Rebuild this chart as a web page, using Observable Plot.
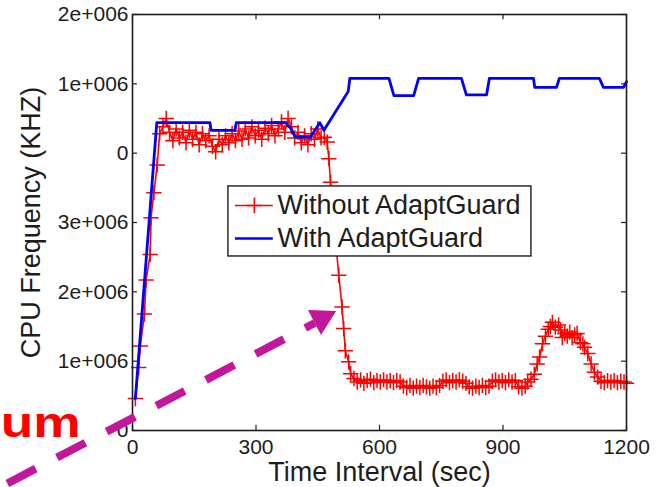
<!DOCTYPE html>
<html>
<head>
<meta charset="utf-8">
<script src="https://cdn.jsdelivr.net/npm/d3@7"></script>
<script src="https://cdn.jsdelivr.net/npm/@observablehq/plot@0.6"></script>
<style>
  html, body { margin: 0; padding: 0; background: #fff; }
</style>
</head>
<body>
<div id="chart"></div>
<script>
// ---- Data (values in units of 1e6 KHz on the y axis) ----
const xTicks = [0, 300, 600, 900, 1200];
const yTicks = [0, 1, 2, 3, 4, 5, 6];
const yTickLabels = ["0", "1e+006", "2e+006", "3e+006", "0", "1e+006", "2e+006"];

const seriesNames = ["Without AdaptGuard", "With AdaptGuard"];

// Without AdaptGuard (red, + markers)
const redTime = [
  7, 15, 19, 29, 33, 43, 45, 52, 60,
  66, 74, 82, 90, 98, 106, 114, 122, 130, 138, 146, 154, 162, 170, 178, 186, 194, 202, 210, 218,
  226, 234, 242, 250, 258, 266, 274, 282, 290, 298, 306, 314, 322, 330, 338, 346, 354, 362, 370, 378,
  386, 394, 402, 410, 418, 426, 434, 442, 450, 458,
  466, 473, 477, 481, 491, 501, 509, 513, 517, 525, 530, 538,
  546, 554, 562, 570, 578, 586, 594, 602, 610, 618, 626, 634, 642, 650,
  658, 666, 674, 682, 690, 698, 706, 714, 722, 730, 738, 746,
  754, 762, 770, 778, 786, 794, 802, 810,
  818, 826, 834, 842, 850, 858, 866,
  874, 882, 890, 898, 906, 914, 922, 930,
  938, 946, 954,
  960, 968, 976, 983, 989, 996, 1003, 1010, 1015, 1020, 1027, 1035, 1040, 1044, 1050, 1056, 1062, 1068,
  1074, 1080, 1088, 1094, 1098, 1106, 1114, 1122, 1130,
  1138, 1146, 1154, 1162, 1170, 1178, 1186, 1194, 1200
];
const redValue = [
  0.46, 0.91, 1.22, 1.68, 2.17, 2.54, 3.07, 3.43, 3.83,
  4.28, 4.38, 4.50, 4.30, 4.18, 4.35, 4.22, 4.30, 4.15, 4.33, 4.20, 4.30, 4.12, 4.28, 4.18, 4.25, 4.10, 4.02, 4.20, 4.12,
  4.25, 4.15, 4.28, 4.18, 4.32, 4.20, 4.35, 4.22, 4.38, 4.25, 4.33, 4.20, 4.36, 4.28, 4.40, 4.25, 4.35, 4.45, 4.30, 4.50,
  4.38, 4.22, 4.30, 4.15, 4.25, 4.12, 4.28, 4.20, 4.35, 4.22,
  4.23, 4.16, 3.92, 3.58, 2.90, 2.24, 1.78, 1.47, 1.15, 0.99, 0.82, 0.75,
  0.70, 0.73, 0.68, 0.72, 0.74, 0.69, 0.72, 0.70, 0.73, 0.70, 0.72, 0.69, 0.72, 0.70,
  0.64, 0.62, 0.65, 0.61, 0.64, 0.62, 0.65, 0.63, 0.61, 0.64, 0.62, 0.65,
  0.71, 0.73, 0.69, 0.72, 0.70, 0.73, 0.71, 0.68,
  0.63, 0.61, 0.64, 0.62, 0.65, 0.62, 0.64,
  0.71, 0.73, 0.70, 0.72, 0.69, 0.73, 0.70, 0.72,
  0.63, 0.61, 0.64,
  0.70, 0.74, 0.81, 0.96, 1.06, 1.25, 1.36, 1.46, 1.50, 1.56, 1.49, 1.52, 1.45, 1.34, 1.40, 1.36, 1.42, 1.34,
  1.38, 1.40, 1.27, 1.25, 1.20, 1.11, 0.96, 0.84, 0.77,
  0.71, 0.69, 0.72, 0.70, 0.72, 0.69, 0.71, 0.70, 0.68
];

// With AdaptGuard (blue)
const blueTime = [
  7, 59, 188, 191, 249, 252, 372, 384, 396, 432, 455, 465, 524, 528,
  623, 635, 683, 695, 799, 811, 860, 867, 974, 977, 1030, 1037, 1134, 1144, 1193, 1200
];
const blueValue = [
  0.46, 4.44, 4.44, 4.33, 4.33, 4.44, 4.44, 4.36, 4.23, 4.23, 4.44, 4.33, 4.89, 5.08,
  5.08, 4.83, 4.83, 5.08, 5.08, 4.84, 4.84, 5.08, 5.08, 4.95, 4.95, 5.08, 5.08, 4.95, 4.95, 5.03
];

// ---- Layout / annotation positions (in data units) ----
const legendBox = {x1: 233, x2: 969, y1: 2.51, y2: 3.52};
const legendRows = [
  {name: seriesNames[0], y: 3.245, color: "#ff0000"},
  {name: seriesNames[1], y: 2.769, color: "#0000ff"}
];
const legendLineX = [250, 342];
const legendMarkX = 296;
const legendTextX = 352;

const arrowLine = {x1: -304, y1: -0.764, x2: 443, y2: 1.55};
const arrowHead = {x: 459.6, y: 1.613};
const clippedWord = {text: "um", x: -126, y: 0.1};

const red = redTime.map((t, i) => ({t, v: redValue[i]}));
const blue = blueTime.map((t, i) => ({t, v: blueValue[i]}));

const INK = "#1c1c1c";
const MAGENTA = "#c3179b";

const chart = Plot.plot({
  width: 656,
  height: 487,
  marginLeft: 132,
  marginRight: 30,
  marginTop: 14,
  marginBottom: 57,
  style: {fontFamily: "'Liberation Sans', Arial, sans-serif", background: "white", overflow: "visible"},
  x: {domain: [0, 1200]},
  y: {domain: [0, 6]},
  marks: [
    // inward ticks on all four sides
    Plot.ruleY(yTicks, {y: d => d, x1: 0, x2: 12, stroke: INK, strokeWidth: 1.2}),
    Plot.ruleY(yTicks, {y: d => d, x1: 1188, x2: 1200, stroke: INK, strokeWidth: 1.2}),
    Plot.ruleX(xTicks, {x: d => d, y1: 0, y2: 0.075, stroke: INK, strokeWidth: 1.2}),
    Plot.ruleX(xTicks, {x: d => d, y1: 5.925, y2: 6, stroke: INK, strokeWidth: 1.2}),
    // series
    Plot.line(red, {x: "t", y: "v", stroke: "#ff0000", strokeWidth: 1.6}),
    Plot.dot(red, {x: "t", y: "v", symbol: "plus", r: 5, stroke: "#ff0000", strokeWidth: 1.5}),
    Plot.line(blue, {x: "t", y: "v", stroke: "#0000ff", strokeWidth: 2.8}),
    Plot.frame({stroke: INK, strokeWidth: 1.6}),
    // axes
    Plot.axisY(yTicks, {tickSize: 0, tickPadding: 4, fontSize: 21, color: INK,
      tickFormat: d => yTickLabels[d], label: null}),
    Plot.axisX(xTicks, {tickSize: 0, tickPadding: 9, fontSize: 21, color: INK,
      tickFormat: d => String(d), label: null}),
    Plot.text(["Time Interval (sec)"], {frameAnchor: "bottom", dy: 42, fontSize: 27, fill: INK,
      textAnchor: "middle", lineAnchor: "middle"}),
    Plot.text(["CPU Frequency (KHZ)"], {frameAnchor: "left", dx: -101, rotate: -90, fontSize: 27, fill: INK,
      textAnchor: "middle", lineAnchor: "middle"}),
    // legend
    Plot.rect([legendBox], {x1: "x1", x2: "x2", y1: "y1", y2: "y2", fill: "white", stroke: INK, strokeWidth: 1.4}),
    Plot.ruleY(legendRows, {y: "y", x1: legendLineX[0], x2: legendLineX[1], stroke: "color",
      strokeWidth: d => d.color === "#ff0000" ? 1.6 : 2.6}),
    Plot.dot([legendRows[0]], {x: legendMarkX, y: "y", symbol: "plus", r: 5, stroke: "color", strokeWidth: 1.6}),
    Plot.text(legendRows, {x: legendTextX, y: "y", text: "name", textAnchor: "start", fontSize: 27, fill: INK, lineAnchor: "middle"}),
    // annotation: dashed magenta arrow + clipped red word
    Plot.link([arrowLine], {x1: "x1", y1: "y1", x2: "x2", y2: "y2", stroke: MAGENTA, strokeWidth: 8,
      strokeDasharray: "32,24", strokeLinecap: "butt"}),
    Plot.dot([arrowHead], {x: "x", y: "y", symbol: "triangle", r: 10.5, fill: MAGENTA, stroke: "none", rotate: 62.4}),
    Plot.text([clippedWord], {x: "x", y: "y", text: "text", textAnchor: "end", fontSize: 42, fontWeight: "bold",
      fill: "#ff0000", lineAnchor: "middle"})
  ]
});

// stretch the clipped bold word horizontally as in the reference
d3.select(chart).selectAll("text").filter(function() { return this.textContent === "um"; })
  .attr("textLength", 80).attr("lengthAdjust", "spacingAndGlyphs");

document.getElementById("chart").appendChild(chart);
</script>
</body>
</html>
